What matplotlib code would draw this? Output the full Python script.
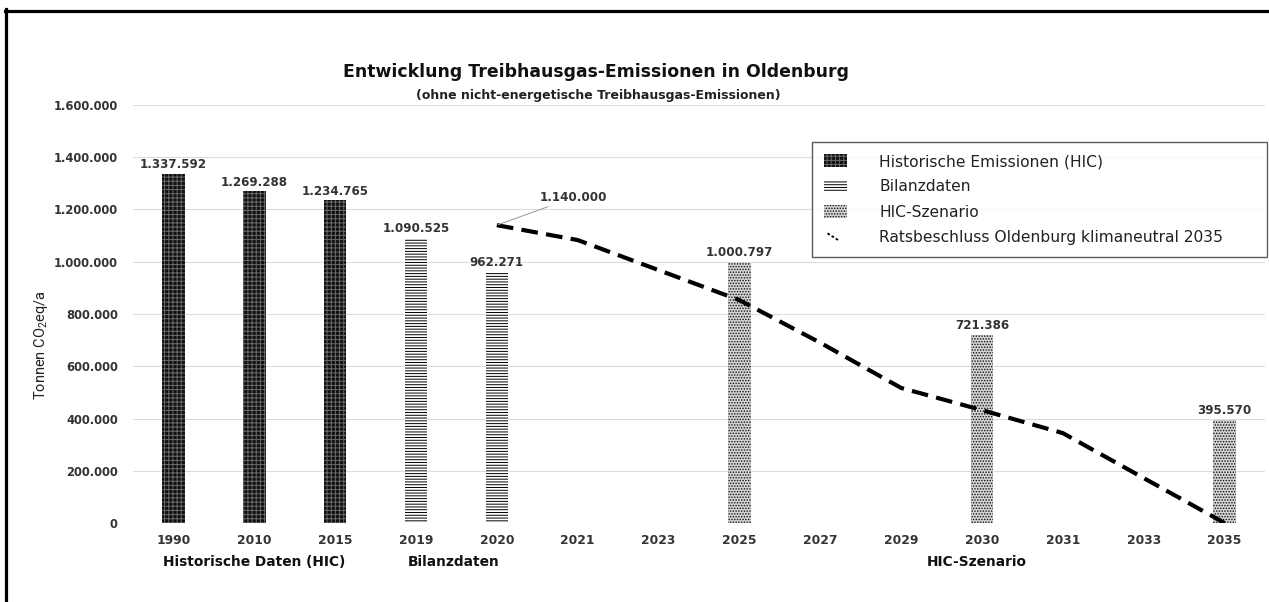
import matplotlib
matplotlib.use("Agg")
import matplotlib.pyplot as plt
from matplotlib.patches import Patch
from matplotlib.lines import Line2D
from matplotlib.legend_handler import HandlerBase
import numpy as np

plt.rcParams['font.family'] = ['DejaVu Sans']
plt.rcParams['mathtext.default'] = 'regular'
plt.rcParams['hatch.linewidth'] = 0.7

categories = ['1990', '2010', '2015', '2019', '2020', '2021', '2023', '2025',
              '2027', '2029', '2030', '2031', '2033', '2035']
hist_years = ['1990', '2010', '2015']
hist_values = [1337592, 1269288, 1234765]
bilanz_years = ['2019', '2020']
bilanz_values = [1090525, 962271]
scen_years = ['2025', '2030', '2035']
scen_values = [1000797, 721386, 395570]
path_years = ['2020', '2021', '2023', '2025', '2027', '2029', '2030', '2031', '2033', '2035']
path_values = [1140000, 1083000, 968000, 853000, 690000, 517000, 432000, 344000, 172000, 0]
yticks = [0, 200000, 400000, 600000, 800000, 1000000, 1200000, 1400000, 1600000]
group_labels = ['Historische Daten (HIC)', 'Bilanzdaten', 'HIC-Szenario']

def fmt(v):
    return f"{v:,.0f}".replace(",", ".")

idx = {c: i for i, c in enumerate(categories)}

fig = plt.figure(figsize=(12.69, 6.02), dpi=100)
ax = fig.add_axes([133/1269, 1-523/602, (1265-133)/1269, (523-105)/602])

w = 0.28
txtcol = '#333333'
hist_style = dict(facecolor='#111111', edgecolor='#6a6a6a', hatch='++++', linewidth=0)
bil_style = dict(facecolor='white', edgecolor='black', hatch='------', linewidth=0)
scen_style = dict(facecolor='#d4d4d4', edgecolor='#111111', hatch='......', linewidth=0)

def draw(years, vals, style):
    xs = [idx[y] for y in years]
    ax.bar(xs, vals, width=w, **style, zorder=2)
    for x, v in zip(xs, vals):
        ax.annotate(fmt(v), (x, v), xytext=(0, 2), textcoords='offset points',
                    ha='center', va='bottom', fontsize=8.6, fontweight='bold', color=txtcol)

draw(hist_years, hist_values, hist_style)
draw(bilanz_years, bilanz_values, bil_style)
draw(scen_years, scen_values, scen_style)

px = [idx[y] for y in path_years]
ax.plot(px, path_values, color='black', lw=3.0, dashes=(4, 2), zorder=3)
ax.annotate(fmt(path_values[0]), (px[0], path_values[0]), xytext=(31, 20),
            textcoords='offset points', ha='left', va='center', fontsize=8.6,
            fontweight='bold', color=txtcol,
            arrowprops=dict(arrowstyle='-', color='#999999', lw=0.7, shrinkA=0, shrinkB=1))

ax.set_xlim(-0.5, len(categories) - 0.5)
ax.set_ylim(0, 1600000)
ax.set_xticks(range(len(categories)))
ax.set_xticklabels(categories, fontsize=8.8, fontweight='bold', color=txtcol)
ax.set_yticks(yticks)
ax.set_yticklabels([fmt(v) for v in yticks], fontsize=8.3, fontweight='bold', color=txtcol)
ax.tick_params(length=0)
ax.tick_params(axis='y', pad=11)
ax.tick_params(axis='x', pad=8)
for s in ax.spines.values():
    s.set_visible(False)
ax.grid(axis='y', color='#dcdcdc', lw=0.8, zorder=0)
ax.set_axisbelow(True)

ax.set_ylabel('Tonnen CO$_2$eq/a', fontsize=10.5, family='Roboto', color='#222222')
ax.yaxis.set_label_coords(-0.0735, 0.426)

# group labels
gx = [idx['2010'], (idx['2019'] + idx['2020']) / 2 - 0.03, idx['2030'] - 0.06]
for lab, x in zip(group_labels, gx):
    ax.text(x, -0.094, lab, transform=ax.get_xaxis_transform(), ha='center', va='center',
            fontsize=9.9, fontweight='bold', color='#111111')

fig.text(596/1269, 1-72/602, 'Entwicklung Treibhausgas-Emissionen in Oldenburg',
         ha='center', va='center', fontsize=12.4, fontweight='bold', color='#111111')
fig.text(598/1269, 1-96/602, '(ohne nicht-energetische Treibhausgas-Emissionen)',
         ha='center', va='center', fontsize=9.0, fontweight='bold', color='#222222')


class DiagLineHandler(HandlerBase):
    def create_artists(self, legend, orig_handle, xdescent, ydescent, width, height,
                       fontsize, trans):
        x0, y0 = -xdescent, -ydescent
        ln = Line2D([x0 + 0.15 * width, x0 + 0.65 * width],
                    [y0 + 0.75 * height, y0 + 0.2 * height],
                    color='black', lw=1.3, dashes=(1.5, 1.2), transform=trans)
        return [ln]


line_handle = Line2D([0], [0], color='black', lw=1.3)
handles = [Patch(**hist_style), Patch(**bil_style), Patch(**scen_style), line_handle]
labels = ['Historische Emissionen (HIC)', 'Bilanzdaten', 'HIC-Szenario',
          'Ratsbeschluss Oldenburg klimaneutral 2035']
leg = fig.legend(handles, labels, loc='upper left',
                 bbox_to_anchor=(812/1269, 1-257/602, 455/1269, 115/602), mode='expand',
                 fontsize=11.2, frameon=True, fancybox=False, edgecolor='#333333',
                 handlelength=1.45, handleheight=0.9, handletextpad=2.1, labelspacing=0.66,
                 borderpad=0.78, borderaxespad=0, labelcolor='#222222',
                 handler_map={line_handle: DiagLineHandler()})
leg.get_frame().set_linewidth(1.0)
leg.set_zorder(5)

# frame lines (left and top)
fig.add_artist(Line2D([6.5/1269, 6.5/1269], [0, 1-9/602], color='black', lw=2.3))
fig.add_artist(Line2D([5/1269, 1], [1-10.5/602, 1-10.5/602], color='black', lw=2.3))

fig.savefig('out.png', dpi=100)
